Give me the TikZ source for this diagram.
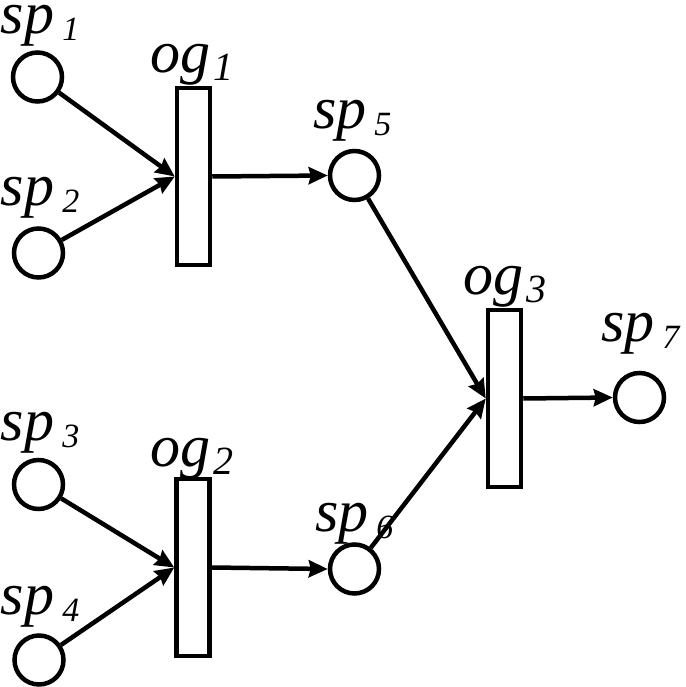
\documentclass[tikz,border=0pt]{standalone}
\usepackage{fontspec}
\setmainfont{Liberation Serif}
\usetikzlibrary{arrows.meta}
\newcommand{\splbl}[2]{{\fontsize{60}{60}\selectfont\itshape #1\hspace{8pt}\raisebox{-7pt}{\fontsize{34}{34}\selectfont #2}}}
\newcommand{\oglbl}[2]{{\fontsize{60}{60}\selectfont\itshape #1\hspace{3pt}\raisebox{-8pt}{\fontsize{40}{40}\selectfont #2}}}
\begin{document}
\begin{tikzpicture}[x=1pt,y=-1pt,
  place/.style={circle,draw,line width=4.5pt,minimum size=49pt,inner sep=0pt},
  trans/.style={rectangle,draw,line width=4.5pt,minimum width=33pt,minimum height=177pt,inner sep=0pt},
  lbl/.style={anchor=base west,inner sep=0pt,outer sep=0pt},
  arc/.style={line width=4.5pt,-{Stealth[length=19pt,width=17pt,inset=2pt]}}]
\useasboundingbox (0,0) rectangle (685,687);
% places
\node[place] (sp1) at (37.5,77) {};
\node[place] (sp2) at (38.5,253) {};
\node[place] (sp3) at (38.5,484.5) {};
\node[place] (sp4) at (39,660) {};
\node[place] (sp5) at (354.5,175.5) {};
\node[place] (sp6) at (354.5,569) {};
\node[place] (sp7) at (639.5,397.5) {};
% transitions
\node[trans] (og1) at (193.5,176.5) {};
\node[trans] (og2) at (193,567.5) {};
\node[trans] (og3) at (504.5,398.5) {};
% labels
\node[lbl] (l1) at (1,34) {\splbl{sp}{1}};
\node[lbl] (l2) at (1,205) {\splbl{sp}{2}};
\node[lbl] (l3) at (1,440) {\splbl{sp}{3}};
\node[lbl] (l4) at (1,614) {\splbl{sp}{4}};
\node[lbl] (l5) at (313,129) {\splbl{sp}{5}};
\node[lbl] (l6) at (315,531) {\splbl{sp}{6}};
\node[lbl] (l7) at (601,341) {\splbl{sp}{7}};
\node[lbl] (lo1) at (150,73) {\oglbl{og}{1}};
\node[lbl] (lo2) at (150,466) {\oglbl{og}{2}};
\node[lbl] (lo3) at (463,294) {\oglbl{og}{3}};
% arcs
\draw[arc] (sp1) -- (og1.west);
\draw[arc] (sp2) -- (og1.west);
\draw[arc] (sp3) -- (og2.west);
\draw[arc] (sp4) -- (og2.west);
\draw[arc] (og1.east) -- (sp5.west);
\draw[arc] (og2.east) -- (sp6.west);
\draw[arc] (sp5) -- (og3.west);
\draw[arc] (sp6) -- (og3.west);
\draw[arc] (og3.east) -- (sp7.west);
\end{tikzpicture}
\end{document}
